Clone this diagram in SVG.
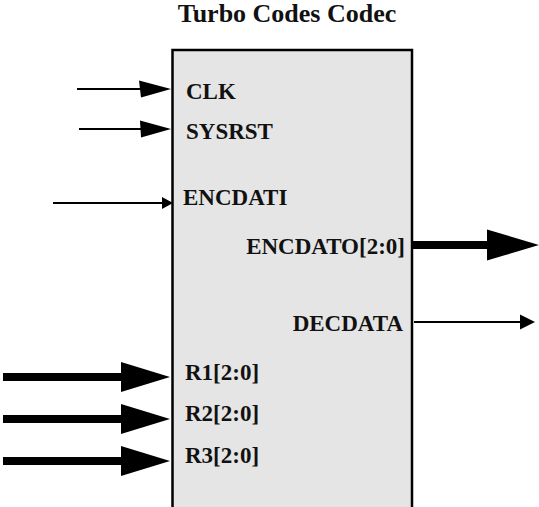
<svg xmlns="http://www.w3.org/2000/svg" width="539" height="507" viewBox="0 0 539 507">
<style>
  .lbl { font-family: "Liberation Serif", "Times New Roman", serif; font-weight: bold; font-size: 23px; fill: #111; }
  .title { font-family: "Liberation Serif", "Times New Roman", serif; font-weight: bold; font-size: 26px; fill: #111; }
  .thin { stroke: #000; stroke-width: 2; fill: none; }
  .thick { stroke: #000; stroke-width: 8; fill: none; }
  .head { fill: #000; stroke: none; }
</style>
<rect width="539" height="507" fill="#fff"/>
<text class="title" x="287" y="22" text-anchor="middle">Turbo Codes Codec</text>
<g id="codec">
  <rect x="172.5" y="50" width="239.5" height="470" fill="#e5e5e5" stroke="#000" stroke-width="2.5"/>
  <text class="lbl" x="186" y="99">CLK</text>
  <text class="lbl" x="186" y="139">SYSRST</text>
  <text class="lbl" x="183" y="205">ENCDATI</text>
  <text class="lbl" x="405" y="254" text-anchor="end">ENCDATO[2:0]</text>
  <text class="lbl" x="403" y="331" text-anchor="end">DECDATA</text>
  <text class="lbl" x="185" y="380">R1[2:0]</text>
  <text class="lbl" x="185" y="421">R2[2:0]</text>
  <text class="lbl" x="185" y="463">R3[2:0]</text>
</g>
<g id="connectors">
  <g id="clk">
    <line class="thin" x1="77" y1="89" x2="145" y2="89"/>
    <polygon class="head" points="139,80.5 171,89 141,97.5"/>
  </g>
  <g id="sysrst">
    <line class="thin" x1="79" y1="129" x2="145" y2="129"/>
    <polygon class="head" points="140,120.5 171,129 141,137.5"/>
  </g>
  <g id="encdati">
    <line class="thin" x1="53" y1="203" x2="165" y2="203"/>
    <polygon class="head" points="162,197 173,203 162,209"/>
  </g>
  <g id="encdato">
    <line class="thick" x1="413" y1="245" x2="490" y2="245"/>
    <polygon class="head" points="487,229.5 539,245 487,260.5"/>
  </g>
  <g id="decdata">
    <line class="thin" x1="414" y1="322" x2="524" y2="322"/>
    <polygon class="head" points="520,314.5 535,322 520,329.5"/>
  </g>
  <g id="r1">
    <line class="thick" x1="3" y1="377" x2="124" y2="377"/>
    <polygon class="head" points="121,362 170,377 121,392"/>
  </g>
  <g id="r2">
    <line class="thick" x1="3" y1="419" x2="124" y2="419"/>
    <polygon class="head" points="121,404 170,419 121,434"/>
  </g>
  <g id="r3">
    <line class="thick" x1="3" y1="461" x2="124" y2="461"/>
    <polygon class="head" points="121,446 170,461 121,476"/>
  </g>
</g>
</svg>
